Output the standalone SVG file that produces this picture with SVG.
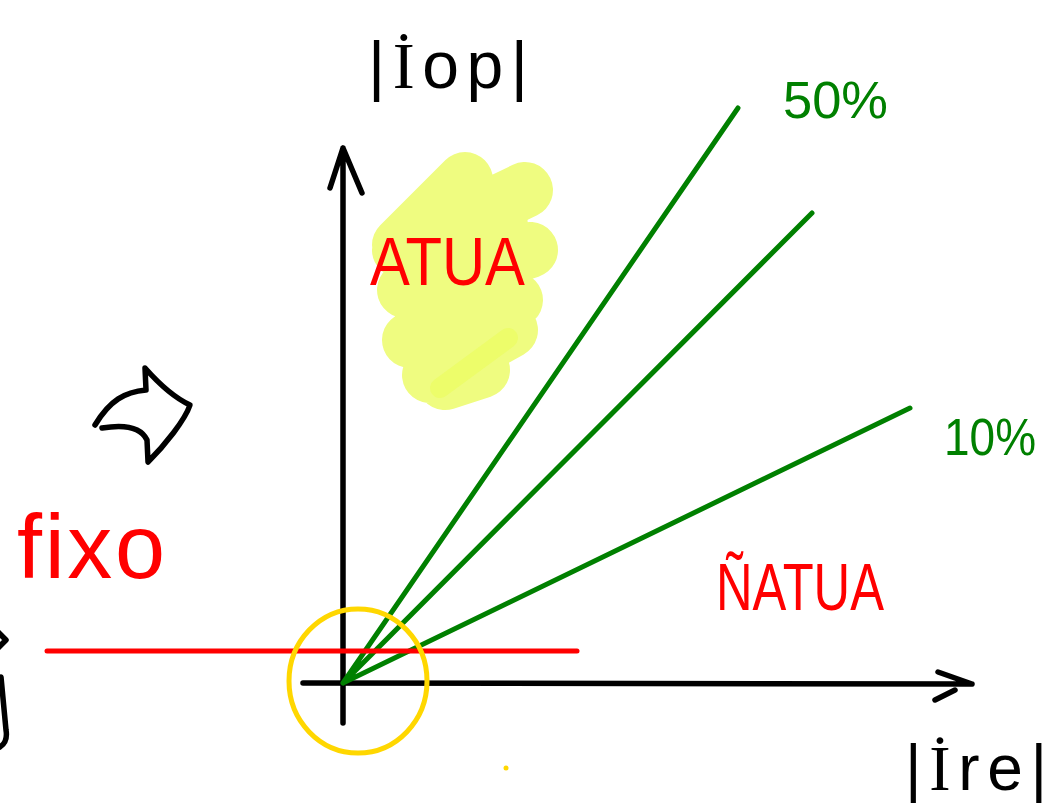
<svg xmlns="http://www.w3.org/2000/svg" width="1053" height="804" viewBox="0 0 1053 804">
<style>
.ink{fill:none;stroke:#000;stroke-width:5.5;stroke-linecap:round;stroke-linejoin:round}
.grn{fill:none;stroke:#008000;stroke-width:5;stroke-linecap:round}
.red{fill:none;stroke:#ff0000;stroke-width:5;stroke-linecap:round}
.hl{fill:none;stroke:#effc80;stroke-width:56;stroke-linecap:round;stroke-linejoin:round}
.t{font-family:"Liberation Sans",Arial,sans-serif}
.s{font-family:"Liberation Serif","Times New Roman",serif}
.tb{fill:#000}
.tr{fill:#ff0000}
.tg{fill:#008000}
</style>
<rect width="1053" height="804" fill="#fff"/>
<g id="highlight">
<path d="M462 178 L525 190 L530 250 L515 300 L480 360 L445 380 L410 340 L400 245 Z" fill="#effc80"/>
<path class="hl" d="M465 180 L400 245 M400 250 L525 190 M405 290 L530 250 M410 340 L515 300 M430 375 L510 330 M445 382 L482 370"/>
<path d="M440 388 L508 338" stroke="#ebfd5c" stroke-width="20" stroke-linecap="round" fill="none" opacity="0.6"/>
</g>
<g id="connectors">
<path class="ink" d="M343 723 L343 148 M330 188 L343 148 L362 193"/>
<path class="ink" d="M303 683 L972 684 M938 672 L972 684 M955 690 L935 700"/>
<path class="grn" d="M343 683 L738 108 M343 683 L812 213 M343 683 L910 408"/>
<path class="red" d="M47 651 L577 651"/>
</g>
<g id="circle">
<ellipse cx="358" cy="681" rx="69" ry="72" fill="none" stroke="#ffd700" stroke-width="5"/>
<circle cx="506" cy="768" r="2.5" fill="#ffd700"/>
</g>
<g id="arrow-icon">
<path class="ink" d="M95 425 C110 400 125 392 146 390 L145 368 C160 385 175 398 190 405 C185 420 165 445 148 462 L147 440 C140 425 120 425 102 428"/>
</g>
<g id="edge-mark">
<path class="ink" d="M-2 632 L6 640 L-2 648 M1 677 L6 730 Q8 742 0 747"/>
</g>
<g id="label-iop"><text class="t tb" x="368" y="88" font-size="66" textLength="160" lengthAdjust="spacing">|<tspan class="s">İ</tspan>op|</text></g>
<g id="label-ire"><text class="t tb" x="905" y="790" font-size="64" textLength="142" lengthAdjust="spacing">|<tspan class="s">İ</tspan>re|</text></g>
<g id="label-50"><text class="t tg" x="783" y="118" font-size="52" textLength="105" lengthAdjust="spacingAndGlyphs">50%</text></g>
<g id="label-10"><text class="t tg" x="944" y="455" font-size="52" textLength="92" lengthAdjust="spacingAndGlyphs">10%</text></g>
<g id="label-atua"><text class="t tr" x="370" y="285" font-size="68" textLength="155" lengthAdjust="spacingAndGlyphs">ATUA</text></g>
<g id="label-natua"><text class="t tr" x="716" y="610" font-size="66" textLength="168" lengthAdjust="spacingAndGlyphs">ÑATUA</text></g>
<g id="label-fixo"><text class="t tr" x="17" y="578" font-size="90" textLength="148" lengthAdjust="spacing">fixo</text></g>
</svg>
